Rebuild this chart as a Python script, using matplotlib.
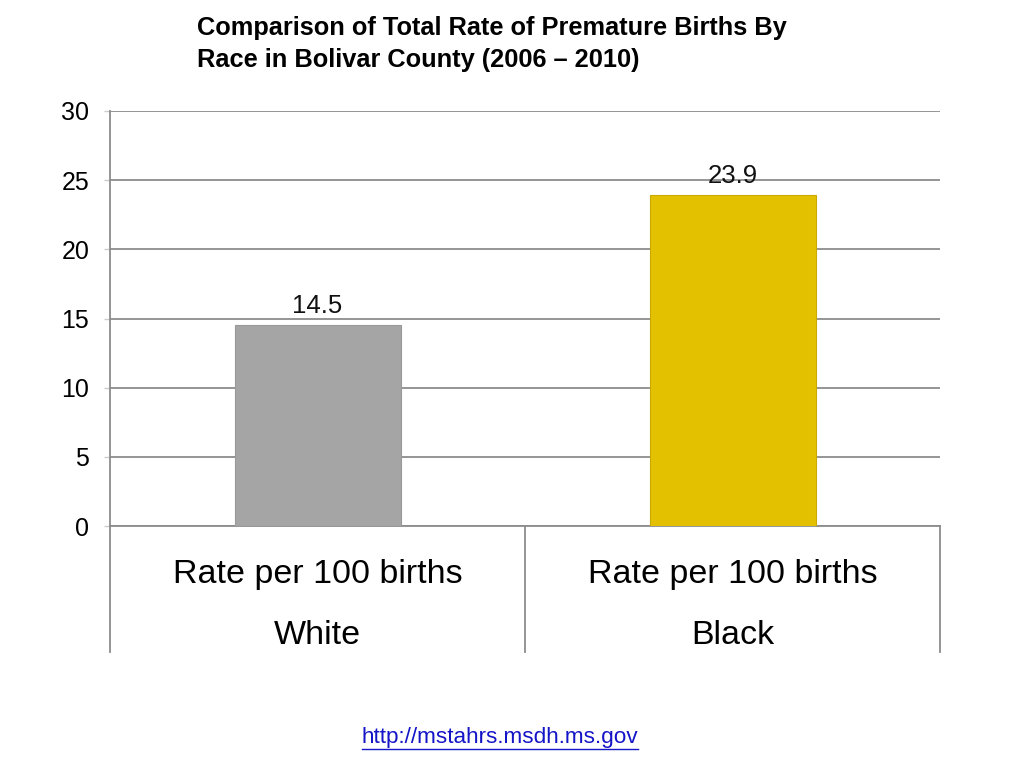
import matplotlib.pyplot as plt
from matplotlib.lines import Line2D

plt.rcParams['font.family'] = ['Liberation Sans', 'DejaVu Sans']

# dados
grupos = ["White", "Black"]
rotulo_cat = "Rate per 100 births"
taxas = [14.5, 23.9]
cores = ["#A5A5A5", "#E4C100"]
yticks = [0, 5, 10, 15, 20, 25, 30]
titulo = ["Comparison of Total Rate of Premature Births By",
          "Race in Bolivar County (2006 \u2013 2010)"]

fig = plt.figure(figsize=(10.24, 7.68), dpi=100)
ax = fig.add_axes([110 / 1024, 1 - 526 / 768, 830 / 1024, 415 / 768])

x = list(range(len(taxas)))
barras = ax.bar(x, taxas, width=0.4, color=cores, edgecolor=["#999999", "#C9A800"],
                linewidth=0.8, zorder=3)
for b, v in zip(barras, taxas):
    ax.text(b.get_x() + b.get_width() / 2, v + 0.55, f"{v}", ha="center", va="bottom",
            fontsize=18.5, color="#111111")

ax.set_xlim(-0.5, 1.5)
ax.set_ylim(0, 30)
ax.set_yticks(yticks)
ax.set_yticklabels([str(t) for t in yticks], fontsize=18)
ax.yaxis.grid(True, color="#8C8C8C", linewidth=1.3, zorder=0)
ax.set_axisbelow(True)
ax.tick_params(axis="y", length=4, width=1.0, color="#CCCCCC", pad=11)
ax.set_xticks([])

for lado in ["top", "right"]:
    ax.spines[lado].set_visible(False)
for lado in ["left", "bottom"]:
    ax.spines[lado].set_color("#8C8C8C")
    ax.spines[lado].set_linewidth(1.3)

# separadores das categorias abaixo do eixo
for xs in [-0.5, 0.5, 1.5]:
    ax.add_line(Line2D([xs, xs], [0, -9.1], color="#8C8C8C", linewidth=1.3,
                       clip_on=False, transform=ax.transData))

for xi, g in zip(x, grupos):
    ax.text(xi, -3.5, rotulo_cat, ha="center", va="center", fontsize=24.5)
    ax.text(xi, -7.95, g, ha="center", va="center", fontsize=24.5)

for i, linha in enumerate(titulo):
    fig.text(197 / 1024, 1 - (28 + 32 * i) / 768, linha, ha="left", va="center",
             fontsize=18.3, fontweight="bold")

fig.text(500 / 1024, 1 - 737 / 768, "http://mstahrs.msdh.ms.gov", ha="center", va="center",
         fontsize=16.2, color="#1515C8")
fig.add_artist(Line2D([362 / 1024, 638 / 1024], [1 - 749 / 768, 1 - 749 / 768],
                      color="#1515C8", linewidth=1.0, transform=fig.transFigure))

fig.savefig("out.png", dpi=100)
